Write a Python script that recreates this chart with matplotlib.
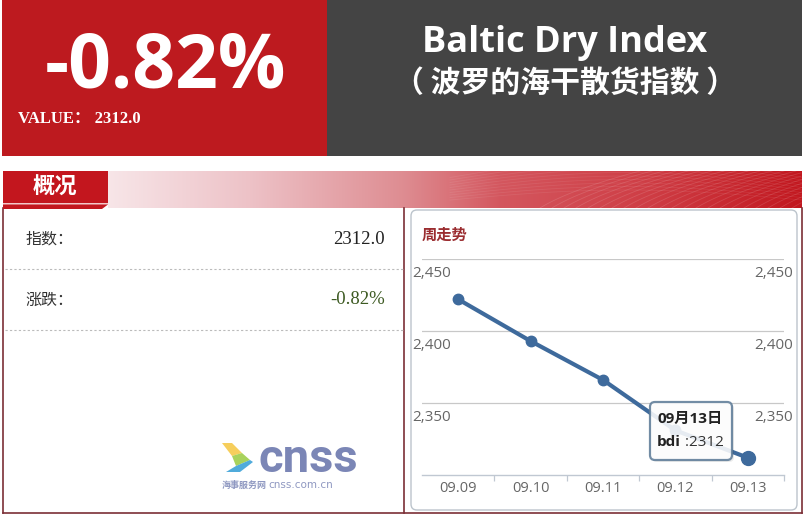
import numpy as np
import matplotlib
matplotlib.use("Agg")
import matplotlib.pyplot as plt
from matplotlib.patches import Rectangle, FancyBboxPatch, Polygon
from matplotlib.transforms import offset_copy

# ---------------- data ----------------
dates = ["09.09", "09.10", "09.11", "09.12", "09.13"]
bdi_values = [2422, 2393, 2366, 2331, 2312]
y_ticks = [2350, 2400, 2450]
y_range = [2300, 2450]
latest_value = "2312.0"
change_pct = "-0.82%"
title_en = "Baltic Dry Index"
title_cn = "（ 波罗的海干散货指数 ）"
series_name = "bdi"

W, H = 808, 516
fig = plt.figure(figsize=(W / 100, H / 100), dpi=100)
fig.patch.set_facecolor("white")

CJK = ["Noto Sans CJK SC", "DejaVu Sans"]

# ---------- background / decoration axes (pixel coords) ----------
bg = fig.add_axes([0, 0, 1, 1], zorder=0)
bg.set_xlim(0, W)
bg.set_ylim(H, 0)
bg.axis("off")

# header blocks
bg.add_patch(Rectangle((2, 0), 325, 156, facecolor="#bd1a1f", edgecolor="none"))
bg.add_patch(Rectangle((327, 0), 475, 156, facecolor="#444444", edgecolor="none"))

bg.text(165, 88, change_pct, color="white", fontsize=54, fontweight="bold",
        family=["Open Sans", "DejaVu Sans"], ha="center", va="baseline")
bg.text(18, 123, "VALUE： " + latest_value, color="white", fontsize=12, fontweight="bold",
        family=["Liberation Serif", "Noto Sans CJK SC"], ha="left", va="baseline")
bg.text(565, 52, title_en, color="white", fontsize=26, fontweight="bold",
        family=["Open Sans", "DejaVu Sans"], ha="center", va="baseline")
bg.text(565, 83, title_cn, color="white", fontsize=21.5, fontweight="bold",
        family=CJK, ha="center", va="center")

# banner gradient
stops_x = [108, 250, 404, 500, 650, 802]
stops_c = np.array([[0.97, 0.90, 0.91], [0.93, 0.76, 0.78], [0.87, 0.55, 0.57],
                    [0.83, 0.34, 0.37], [0.81, 0.24, 0.27], [0.76, 0.09, 0.12]])
xs = np.linspace(108, 802, 400)
grad = np.stack([np.interp(xs, stops_x, stops_c[:, k]) for k in range(3)], axis=-1)
grad = np.repeat(grad[None, :, :], 2, axis=0)
bg.imshow(grad, extent=(108, 802, 208, 171), aspect="auto", interpolation="bilinear", zorder=1)
# decorative swoosh lines
t = np.linspace(0, 1, 100)
for i in range(22):
    x0 = 540 + i * 12
    xx = x0 + 60 * t + 40 * t ** 2
    yy = 208 - 37 * t
    m = xx <= 802
    bg.plot(xx[m], yy[m], color="white", alpha=0.13, lw=0.6, zorder=2)
for i in range(10):
    xx = 450 + 352 * t
    yy = 200 - i * 2.5 - 10 * np.sin(np.pi * t) * (1 + i * 0.1)
    bg.plot(xx, yy, color="white", alpha=0.08, lw=0.6, zorder=2)

# tab
bg.add_patch(Rectangle((3, 171), 105, 32, facecolor="#c3161e", edgecolor="none", zorder=3))
bg.add_patch(Rectangle((3, 203), 105, 1.5, facecolor="#f3c8ca", edgecolor="none", zorder=3))
bg.add_patch(Polygon([(3, 204.5), (108, 204.5), (102, 209), (3, 209)], closed=True,
                     facecolor="#c3161e", edgecolor="none", zorder=3))
bg.text(55, 187, "概况", color="white", fontsize=16, fontweight="bold", family=CJK,
        ha="center", va="center", zorder=4)

# container borders
border_c = "#7b2f36"
bg.plot([3, 3], [208, 513], color=border_c, lw=1.2)
bg.plot([404, 404], [208, 513], color=border_c, lw=1.2)
bg.plot([802, 802], [208, 513], color=border_c, lw=1.2)
bg.plot([3, 802], [513, 513], color=border_c, lw=1.2)

# left panel rows
bg.plot([5, 403], [269, 269], color="#bbbbbb", lw=0.8, ls=(0, (2, 2)))
bg.plot([5, 403], [330, 330], color="#bbbbbb", lw=0.8, ls=(0, (2, 2)))
bg.text(25, 239, "指数：", color="#333333", fontsize=11.5, family=CJK, ha="left", va="center")
bg.text(385, 239, latest_value, color="#222222", fontsize=13.5,
        family=["Liberation Serif", "DejaVu Serif"], ha="right", va="center")
bg.text(25, 300, "涨跌：", color="#333333", fontsize=11.5, family=CJK, ha="left", va="center")
bg.text(385, 300, change_pct, color="#3d5a22", fontsize=13.5,
        family=["Liberation Serif", "DejaVu Serif"], ha="right", va="center")

# logo
bg.add_patch(Polygon([(222, 443), (232, 443), (242, 453), (232, 456)], closed=True,
                     facecolor="#f6c94a", edgecolor="none", alpha=0.9))
bg.add_patch(Polygon([(232, 456), (242, 453), (250, 460), (236, 466)], closed=True,
                     facecolor="#9fcd4a", edgecolor="none", alpha=0.9))
bg.add_patch(Polygon([(236, 466), (250, 460), (253, 462), (240, 472), (226, 472)], closed=True,
                     facecolor="#3da2d8", edgecolor="none", alpha=0.9))
bg.text(258, 472, "cnss", color="#7b86b6", fontsize=34, fontweight="bold",
        family=["Roboto", "DejaVu Sans"], ha="left", va="baseline")
bg.text(222, 485, "海事服务网", color="#7b86b6", fontsize=6.5, fontweight="bold",
        family=CJK, ha="left", va="center", alpha=0.85)
bg.text(268, 485, "cnss.com.cn", color="#7b86b6", fontsize=7.5,
        family=["DejaVu Sans"], ha="left", va="center", alpha=0.85)

# chart box
bg.add_patch(FancyBboxPatch((411, 210), 386, 300, boxstyle="round,pad=0,rounding_size=6",
                            facecolor="white", edgecolor="#bcc4cc", lw=1.0, zorder=1))
bg.text(422, 235, "周走势", color="#9b2d30", fontsize=11, fontweight="bold", family=CJK,
        ha="left", va="center", zorder=2)

# ---------------- chart axes ----------------
L, R, T, B = 422, 784, 259, 475
ax = fig.add_axes([L / W, (H - B) / H, (R - L) / W, (B - T) / H], zorder=2)
ax.patch.set_alpha(0)
x = np.arange(len(dates))
ax.set_xlim(-0.5, len(dates) - 0.5)
ax.set_ylim(y_range[0], y_range[1])

for yv in y_ticks:
    ax.axhline(yv, color="#c8c8c8", lw=0.9, zorder=1)

ax.plot(x, bdi_values, color="#3e6a9c", lw=3, marker="o", ms=7.5,
        markerfacecolor="#3e6a9c", markeredgecolor="#3e6a9c", zorder=3, solid_capstyle="round")
ax.plot(x[-1], bdi_values[-1], "o", color="#3e6a9c", ms=10, zorder=4)

for s in ["top", "left", "right"]:
    ax.spines[s].set_visible(False)
ax.spines["bottom"].set_color("#c0c8d2")
ax.spines["bottom"].set_linewidth(1.0)

ax.set_xticks(x)
ax.set_xticklabels(dates)
ax.set_xticks(list(x[:-1] + 0.5) + [len(dates) - 0.5], minor=True)
ax.tick_params(axis="x", which="major", length=0, pad=4, labelsize=10.5, labelcolor="#666666")
ax.tick_params(axis="x", which="minor", length=4, width=0.9, color="#c0c8d2")
ax.set_yticks([])
for lab in ax.get_xticklabels():
    lab.set_family(["Open Sans", "DejaVu Sans"])

ytr = offset_copy(ax.get_yaxis_transform(), fig=fig, x=0, y=-15, units="dots")
for yv in y_ticks:
    ax.text(-0.028, yv, f"{yv:,}", transform=ytr, ha="left", va="center",
            color="#666666", fontsize=11, family=["Open Sans", "DejaVu Sans"])
    ax.text(1.025, yv, f"{yv:,}", transform=ytr, ha="right", va="center",
            color="#666666", fontsize=11, family=["Open Sans", "DejaVu Sans"])

# ---------------- tooltip overlay ----------------
ov = fig.add_axes([0, 0, 1, 1], zorder=5)
ov.set_xlim(0, W)
ov.set_ylim(H, 0)
ov.axis("off")
ov.patch.set_alpha(0)
ov.add_patch(FancyBboxPatch((652, 404), 82, 58, boxstyle="round,pad=0,rounding_size=5",
                            facecolor="#000000", edgecolor="none", alpha=0.08))
ov.add_patch(FancyBboxPatch((650, 402), 82, 58, boxstyle="round,pad=0,rounding_size=5",
                            facecolor="white", edgecolor="#5e7c98", lw=1.6, alpha=0.88))
mm, dd = dates[-1].split(".")
ov.text(657, 419, f"{mm}月{dd}日", color="#222222", fontsize=11, fontweight="bold",
        family=["Open Sans", "Noto Sans CJK SC"], ha="left", va="center")
tb = ov.text(657, 442, series_name, color="#222222", fontsize=11, fontweight="bold",
             family=["Open Sans", "DejaVu Sans"], ha="left", va="center")
ov.annotate(f" :{bdi_values[-1]}", xy=(1, 0.5), xycoords=tb, ha="left", va="center",
            color="#333333", fontsize=11, family=["Open Sans", "DejaVu Sans"])

fig.savefig("out.png", dpi=100, facecolor="white")
